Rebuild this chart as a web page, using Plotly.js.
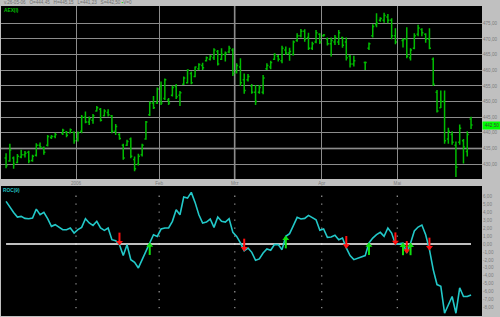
<!DOCTYPE html>
<html><head><meta charset="utf-8">
<script src="https://cdn.plot.ly/plotly-3.0.1.min.js"></script>
<style>html,body{margin:0;padding:0;background:#c0c0c0;overflow:hidden}#chart{width:500px;height:317px}</style>
</head><body><div id="chart"></div>
<script>
// ---- calendar ----
const startDate = '2005-12-06', endDate = '2006-05-26';
const holidays = ['2005-12-26','2006-04-14','2006-04-17','2006-05-01'];
const monthStarts = ['2006-01-02','2006-02-01','2006-03-01','2006-04-03','2006-05-01'];
const monthLabels = ['2006','Feb','Mrz','Apr','Mai'];

// ---- AEX daily bars ----
const open = [432.0,431.0,432.0,430.5,432.3,433.0,433.8,431.2,432.8,436.0,435.2,436.0,438.5,438.8,
439.8,440.2,440.0,440.2,438.0,440.5,445.0,443.5,444.0,447.0,447.5,445.5,446.5,445.5,440.5,439.5,436.0,436.0,438.0,431.5,430.0,433.0,438.0,445.8,449.5,449.5,
455.0,451.0,450.5,452.0,454.8,452.0,455.5,456.0,459.0,458.0,460.5,461.5,463.0,463.5,464.0,466.0,463.5,465.0,465.8,466.5,459.5,461.0,457.0,457.0,455.0,453.0,
453.0,453.0,460.5,461.0,463.5,464.5,463.0,466.5,465.5,465.0,469.5,471.0,472.5,470.5,467.0,469.0,471.5,471.0,470.0,468.5,469.0,469.0,470.5,469.0,464.5,462.0,
462.5,467.0,471.0,474.5,476.0,476.0,477.0,476.0,471.0,
469.5,470.0,464.0,467.0,471.5,473.0,471.5,470.0,463.5,453.0,448.0,450.0,438.0,439.5,436.0,437.0,437.5,434.0,444.45];
const high = [433.5,436.5,432.4,433.2,434.6,434.2,434.3,433.0,436.7,436.9,435.6,439.3,439.3,440.0,
441.3,440.6,441.4,440.4,440.4,445.7,446.8,445.2,446.0,448.6,447.9,447.5,447.5,445.7,442.8,439.9,436.5,437.8,438.5,432.4,433.3,436.5,443.8,450.0,451.8,454.5,
456.4,457.4,451.1,455.1,455.6,453.4,458.0,460.3,459.6,461.2,462.2,462.4,464.4,464.9,467.0,466.5,467.0,466.0,467.8,467.0,462.2,463.8,459.0,458.8,455.6,455.3,
455.3,458.5,462.2,463.0,465.4,464.9,467.8,467.6,467.2,469.5,471.8,473.2,473.1,472.0,469.1,472.9,471.8,471.6,470.5,470.5,471.3,472.9,470.7,470.5,464.9,464.6,
462.8,468.9,474.7,478.2,476.9,478.4,478.0,476.6,473.4,
470.2,473.7,467.0,471.8,474.5,473.4,471.8,473.4,464.1,453.7,453.5,453.5,441.6,440.5,437.2,442.7,438.0,440.5,445.15];
const low = [428.7,430.8,428.5,430.3,431.9,432.1,430.3,430.8,432.4,435.1,433.0,435.6,438.0,438.3,
439.3,438.6,439.9,436.5,437.2,439.9,443.1,442.5,442.9,446.8,443.6,445.2,445.2,439.9,439.3,437.8,431.4,435.8,431.9,427.7,429.6,432.4,437.8,445.4,447.6,449.2,
448.9,450.5,448.9,451.6,450.8,448.6,455.3,455.8,455.5,457.8,460.1,460.1,462.8,463.1,463.3,461.5,463.3,462.8,465.4,458.2,459.0,455.0,452.5,456.4,452.5,448.9,
452.5,452.3,460.1,460.3,463.3,462.8,462.2,464.9,463.0,464.7,469.1,470.5,469.1,466.5,466.5,468.6,468.4,470.7,467.9,464.4,468.1,468.1,467.2,463.1,460.9,461.2,
460.1,466.5,470.5,473.7,475.5,475.2,475.0,469.9,468.3,
467.3,463.8,463.1,466.7,470.9,470.9,468.8,466.7,455.0,446.5,447.9,436.5,436.5,436.2,425.9,436.2,430.2,432.4,441.23];
const close = [429.5,434.5,430.0,432.5,433.0,433.5,431.0,432.5,436.0,435.5,433.8,438.8,438.8,439.5,
440.8,439.2,441.0,437.5,440.0,445.0,443.5,444.5,445.5,448.0,444.0,447.0,445.8,440.5,442.0,438.2,432.0,437.2,432.5,428.5,432.5,436.0,443.5,449.5,448.0,454.0,
449.5,457.0,449.5,454.5,451.5,452.8,457.5,460.0,456.0,461.0,461.8,460.8,464.0,464.5,466.5,462.0,465.0,465.5,467.0,459.0,461.5,456.0,453.5,458.0,453.0,450.0,
454.5,457.5,461.5,462.5,465.0,463.5,467.0,465.5,466.0,469.0,471.0,472.5,470.0,467.0,468.5,472.0,469.0,471.3,468.5,469.5,470.5,472.0,468.0,464.0,462.0,463.0,
462.5,468.5,474.0,475.0,476.5,477.5,476.0,471.0,469.0,
469.8,464.5,466.5,471.0,473.5,472.0,470.0,467.0,455.5,447.0,450.0,437.5,440.5,437.0,429.0,441.5,435.5,439.5,442.50];

// ---- ROC indicator ----
const roc = [5.36,4.60,3.97,3.39,3.47,3.22,3.18,3.26,4.39,3.68,3.97,3.18,2.22,2.43,
1.80,1.80,2.01,1.38,1.80,2.09,3.18,2.64,2.34,2.85,2.01,1.72,2.01,0.54,0.42,-0.08,-1.46,-0.10,-1.97,-2.30,-3.01,-1.97,-0.92,0.13,1.17,0.96,
1.88,2.01,2.01,2.85,4.31,3.68,5.90,5.77,6.49,5.23,3.68,2.64,2.76,3.14,2.09,3.39,2.85,2.76,3.18,1.46,0.96,0.13,-0.84,-0.50,-1.05,-2.05,
-1.88,-1.13,-0.63,-0.79,-0.08,-0.08,-0.71,0.96,1.30,2.30,3.35,3.14,3.22,3.60,3.31,3.05,1.72,1.88,0.84,0.88,1.09,0.54,0.75,-0.50,-1.46,-1.97,
-1.46,0.13,0.75,1.17,1.46,0.96,2.01,1.38,-0.05,
0.10,-1.13,0.10,1.63,2.13,2.38,1.17,-0.71,-3.22,-5.10,-5.31,-8.70,-7.60,-6.60,-8.70,-5.50,-6.60,-6.60,-6.40];
const sellSignals = ['2006-01-17','2006-03-03','2006-04-11','2006-04-28','2006-05-03','2006-05-11'];
const buySignals  = ['2006-01-27','2006-03-20','2006-04-19','2006-05-02','2006-05-04'];

const priceTicks = [430,435,440,445,450,455,460,465,470,475];
const rocTicks = [6,5,4,3,2,1,0,-1,-2,-3,-4,-5,-6,-7,-8];
const cursorPrice = 435, cursorDate = '2006-03-01';

// ---- helpers ----
const DAY = 864e5;
const t0 = Date.parse(startDate + 'T00:00:00Z');
function wdIndex(s){
  const d = Date.parse(s + 'T00:00:00Z'); let n = 0;
  for(let t = t0; t < d; t += DAY){ const w = new Date(t).getUTCDay(); if(w !== 0 && w !== 6) n++; }
  return n;
}
const dates = [];
for(let t = t0; t <= Date.parse(endDate + 'T00:00:00Z'); t += DAY){
  const dt = new Date(t), w = dt.getUTCDay(), s = dt.toISOString().slice(0,10);
  if(w !== 0 && w !== 6 && holidays.indexOf(s) < 0) dates.push(s);
}
const xs = dates.map(wdIndex);
const monthPos = monthStarts.map(s => wdIndex(s) - 0.5);
const fmt = v => v.toFixed(2).replace('.', ',');
const L = dates.length - 1;
const dmy = s => s.slice(8,10) + '-' + s.slice(5,7) + '-' + s.slice(2,4);

const FONT = 'Liberation Sans, Arial, sans-serif';
const GRID = '#8c8c8c', LABEL = '#7c7c7c';
const GREEN = '#00bc00', CYAN = '#22c8c8';

// paper geometry
const W = 500, H = 317, mL = 1, mR = 18, mT = 6, mB = 1;
const ph = H - mT - mB;
const upBottomPx = 179, lowTopPx = 186;
const upDomain = [(H - mB - upBottomPx) / ph, 1];
const lowDomain = [0, (H - mB - lowTopPx) / ph];
const xRange = [-1.34, 125.9];
const rocRange = [-9.05, 7.29];
const pxPerRoc = (H - mB - lowTopPx) / (rocRange[1] - rocRange[0]);

const dotX = [], dotY = [];
monthPos.forEach(p => rocTicks.forEach(v => { dotX.push(p); dotY.push(v); }));

// arrow geometry (pixels converted to ROC units)
function arrowTraces(list, dir, color){
  const sx = [], sy = [], hx = [], hy = [];
  list.forEach(s => {
    const i = dates.indexOf(s), v = roc[i];
    sx.push(xs[i], xs[i], null);
    sy.push(v + dir * 3 / pxPerRoc, v + dir * 12 / pxPerRoc, null);
    hx.push(xs[i]); hy.push(v + dir * 2.2 / pxPerRoc);
  });
  return [
    {type:'scatter', mode:'lines', x:sx, y:sy, xaxis:'x2', yaxis:'y2', line:{color:color, width:2}, hoverinfo:'skip'},
    {type:'scatter', mode:'markers', x:hx, y:hy, xaxis:'x2', yaxis:'y2', hoverinfo:'skip',
     marker:{symbol: dir > 0 ? 'triangle-down' : 'triangle-up', size:6, color:color, line:{width:0}}}
  ];
}

const traces = [
  {type:'ohlc', x: xs, open: open, high: high, low: low, close: close, xaxis:'x', yaxis:'y',
   increasing:{line:{color:GREEN, width:1.5}}, decreasing:{line:{color:GREEN, width:1.5}},
   tickwidth:0.4, hoverinfo:'skip'},
  {type:'scatter', mode:'markers', x: dotX, y: dotY, xaxis:'x2', yaxis:'y2',
   marker:{symbol:'square', size:1.3, color:'#8c8c8c'}, hoverinfo:'skip'},
  {type:'scatter', mode:'lines', x:[xs[0], xs[L]], y:[0,0], xaxis:'x2', yaxis:'y2',
   line:{color:'#ffffff', width:1.5}, hoverinfo:'skip'},
  {type:'scatter', mode:'lines', x: xs, y: roc, xaxis:'x2', yaxis:'y2',
   line:{color:CYAN, width:1.6}, hoverinfo:'skip'}
].concat(arrowTraces(sellSignals, 1, '#ff1010'), arrowTraces(buySignals, -1, '#10e010'));

const annotations = [];
const hdr = 'v.' + dmy(dates[L]) + '\u00a0\u00a0 O=' + fmt(open[L]) + '\u00a0\u00a0 H=' + fmt(high[L]) +
  '\u00a0\u00a0 L=' + fmt(low[L]) + '\u00a0\u00a0 S=' + fmt(close[L]) +
  ' <span style="color:#00d000">\u25aa</span>V=0';
annotations.push({xref:'paper', yref:'paper', x:0, y:1 + 3/ph, xanchor:'left', yanchor:'middle', xshift:1,
  text: hdr, showarrow:false, font:{family:FONT, size:4.6, color:'#707070'}});
annotations.push({xref:'paper', yref:'paper', x:0, y:(H - mB - 10)/ph, xanchor:'left', yanchor:'middle', xshift:1,
  text:'<b>AEX(I)</b>', showarrow:false, font:{family:FONT, size:4.8, color:'#00c000'}});
annotations.push({xref:'paper', yref:'paper', x:0, y:(H - mB - 190)/ph, xanchor:'left', yanchor:'middle', xshift:0,
  text:'<b>ROC(9)</b>', showarrow:false, font:{family:FONT, size:4.8, color:'#20c0c0'}});
annotations.push({xref:'paper', yref:'y', x:1, y: close[L], xanchor:'left', yanchor:'middle',
  text: fmt(close[L]), showarrow:false, bgcolor:'#00ff00', width:18, height:7, borderpad:0,
  font:{family:FONT, size:4.6, color:'#404040'}});

const layout = {
  width:W, height:H, paper_bgcolor:'#c0c0c0', plot_bgcolor:'#000000',
  margin:{l:mL, r:mR, t:mT, b:mB, pad:0}, showlegend:false, dragmode:false,
  font:{family:FONT, size:4.6, color:LABEL},
  xaxis:{domain:[0,1], anchor:'y', range:xRange, tickmode:'array', tickvals:monthPos, ticktext:monthLabels,
    showgrid:true, gridcolor:GRID, gridwidth:1, zeroline:false, showline:false, ticks:'',
    tickfont:{family:FONT, size:4.6, color:LABEL}, rangeslider:{visible:false}, fixedrange:true},
  yaxis:{domain:upDomain, anchor:'x', side:'right', range:[425.25, 480.53], tickmode:'array', tickvals:priceTicks,
    ticktext:priceTicks.map(fmt), showgrid:true, gridcolor:GRID, gridwidth:1, zeroline:false, showline:false, ticks:'',
    tickfont:{family:FONT, size:4.6, color:LABEL}, fixedrange:true},
  xaxis2:{domain:[0,1], anchor:'y2', range:xRange, showgrid:false, zeroline:false, showticklabels:false,
    showline:false, ticks:'', fixedrange:true},
  yaxis2:{domain:lowDomain, anchor:'x2', side:'right', range:rocRange, tickmode:'array', tickvals:rocTicks,
    ticktext:rocTicks.map(fmt), showgrid:false, zeroline:false, showline:false, ticks:'',
    tickfont:{family:FONT, size:4.6, color:LABEL}, fixedrange:true},
  shapes:[
    {type:'line', xref:'x', yref:'y domain', x0: wdIndex(cursorDate) - 0.5, x1: wdIndex(cursorDate) - 0.5, y0:0, y1:1,
     line:{color:'#5a5a5a', width:2}, layer:'below'},
    {type:'line', xref:'x domain', yref:'y', x0:0, x1:1, y0:cursorPrice, y1:cursorPrice,
     line:{color:'#5a5a5a', width:2}, layer:'below'}
  ],
  annotations: annotations
};

Plotly.newPlot('chart', traces, layout, {staticPlot:true, displayModeBar:false});
</script>
</body></html>
